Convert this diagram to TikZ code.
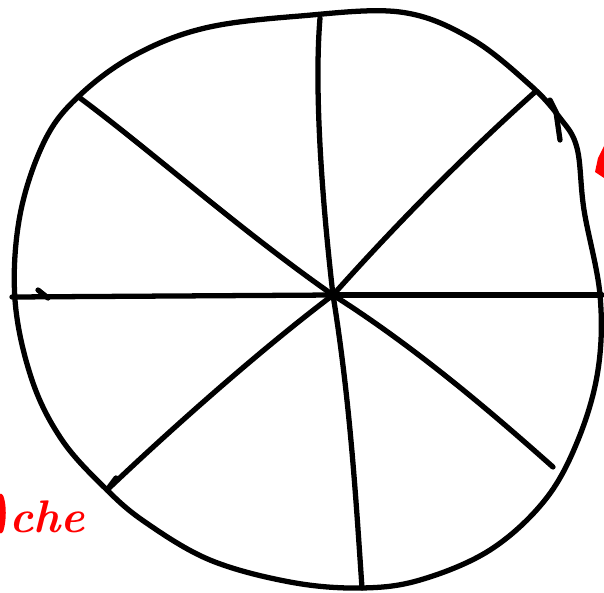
\documentclass[tikz,border=0pt]{standalone}
\usepackage{fontspec}
\begin{document}
\begin{tikzpicture}[x=0.02cm, y=-0.02cm, line cap=round, line join=round,
  stroke/.style={black, line width=3pt},
  redink/.style={red, line width=4pt}]
  \useasboundingbox (0,0) rectangle (604,592);
  \clip (0,0) rectangle (604,592);
  % umriss
  \draw[stroke] plot[smooth cycle, tension=0.6] coordinates {
    (15,300) (20,215) (45,140) (80,95) (135,55) (205,28) (300,16) (400,12)
    (470,38) (530,85) (560,118) (577,148) (584,210) (600,295) (598,370)
    (578,440) (545,500) (490,550) (420,580) (360,588) (290,582) (210,560)
    (145,522) (105,488) (62,440) (32,380)};
  % mittelpunkt
  \coordinate (m) at (333,295);
  \coordinate (n) at (320,18);
  \coordinate (no) at (535,92);
  \coordinate (o) at (602,295);
  \coordinate (so) at (553,467);
  \coordinate (s) at (362,588);
  \coordinate (sw) at (107,490);
  \coordinate (w) at (12,297);
  \coordinate (nw) at (80,98);
  % speichen
  \draw[stroke] (m) .. controls (322,200) and (314,90) .. (n);
  \draw[stroke] (m) .. controls (400,220) and (470,150) .. (no);
  \draw[stroke] (m) -- (o);
  \draw[stroke] (m) .. controls (420,350) and (500,420) .. (so);
  \draw[stroke] (m) .. controls (350,400) and (356,500) .. (s);
  \draw[stroke] (m) .. controls (260,350) and (170,430) .. (sw) -- (116,478);
  \draw[stroke] (m) -- (w);
  \draw[stroke] (m) .. controls (240,230) and (150,150) .. (nw);
  % kleine striche
  \draw[stroke] (550,100) -- (556,112) -- (560,140);
  \draw[stroke] (38,290) -- (48,298);
  % rote schrift
  \node[red, font=\bfseries\itshape\fontsize{26}{26}\selectfont, anchor=south west, inner sep=0pt]
    (label) at (9,533) {che};
  \draw[redink] (0,497) .. controls (3,505) and (3,520) .. (0,530);
  \fill[red] (604,146) -- (598,158) -- (595,172) -- (604,178) -- cycle;
\end{tikzpicture}
\end{document}
